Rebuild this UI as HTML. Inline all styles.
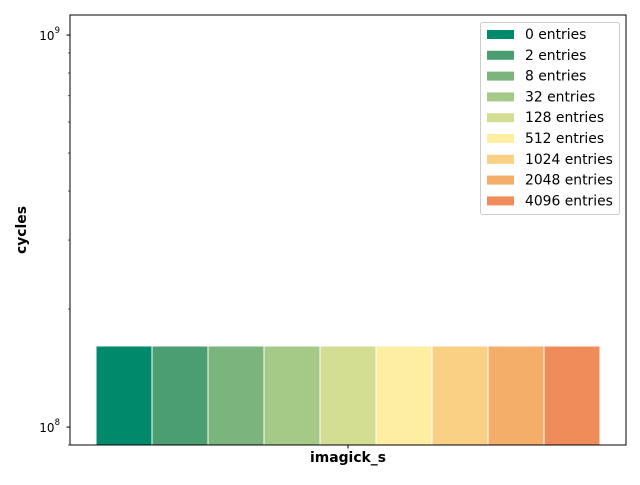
<!DOCTYPE html>
<html><head><meta charset="utf-8"><style>
body{margin:0;background:#fff}
svg text{font-family:"DejaVu Sans","Liberation Sans",sans-serif}
</style></head><body>
<svg width="640" height="480">
<g id="plot"></g>
</svg>
<script>
const categories=["imagick_s"];
const seriesNames=["0 entries","2 entries","8 entries","32 entries","128 entries","512 entries","1024 entries","2048 entries","4096 entries"];
const seriesValues=[1.61e8,1.61e8,1.61e8,1.61e8,1.61e8,1.61e8,1.61e8,1.61e8,1.61e8];
const colors=["#01896c","#4a9e72","#7bb47c","#a5c986","#d3de93","#fdeea2","#f9d084","#f5ae69","#f08c5a"];
const ns="http://www.w3.org/2000/svg";
const g=document.getElementById('plot');
const L=70,R=626,T=15,B=445;
const yMin=Math.log10(0.9e8),yMax=Math.log10(1.125e9);
function y(v){return B-(Math.log10(v)-yMin)/(yMax-yMin)*(B-T);}
const barW=56,x0=96;
function x(i){return x0+i*barW;}
function el(t,a,p){const e=document.createElementNS(ns,t);for(const k in a)e.setAttribute(k,a[k]);(p||g).appendChild(e);return e;}
seriesValues.forEach((v,i)=>{
 const r=el('rect',{x:x(i),y:y(v),width:barW,height:B-y(v),fill:colors[i],stroke:'#fff','stroke-width':1});
 
 
});
const ax=el('rect',{x:L,y:T,width:R-L,height:B-T,fill:'none',stroke:'#000','stroke-width':1});


[1e8,1e9].forEach(v=>{el('line',{x1:L-3.5,x2:L,y1:y(v),y2:y(v),stroke:'#000'});});
[9e7,2e8,3e8,4e8,5e8,6e8,7e8,8e8,9e8].forEach(v=>{el('line',{x1:L-2,x2:L,y1:y(v),y2:y(v),stroke:'#000','stroke-width':0.6});});
const yl=[["10","8",1e8],["10","9",1e9]];
yl.forEach(([b,e,v])=>{
 const t=el('text',{x:L-10,y:y(v)+5,'font-size':12,'text-anchor':'end'});
 
 
 t.innerHTML=b+'<tspan dy="-7" font-size="8.5">'+e+'</tspan>';
});
el('line',{x1:(L+R)/2,x2:(L+R)/2,y1:B,y2:B+3.5,stroke:'#000'});
const xt=el('text',{x:348,y:462,'font-size':13.9,'font-weight':'bold','text-anchor':'middle'});


xt.textContent=categories[0];
const yt=el('text',{x:0,y:0,'font-size':13.9,'font-weight':'bold','text-anchor':'middle',transform:'translate(26,230) rotate(-90)'});


yt.textContent='cycles';
const lg=el('g',{});


el('rect',{x:480.5,y:22.5,width:139,height:192,rx:2,fill:'#fff','fill-opacity':0.8,stroke:'#ccc'},lg);
seriesNames.forEach((n,i)=>{
 const yy=34+i*20.8;
 const p=el('rect',{x:487,y:yy-4,width:27,height:9,fill:colors[i]},lg);
 
 
 const t=el('text',{x:525,y:yy+5,'font-size':13.9},lg);
 
 
 t.textContent=n;
});
</script>
</body></html>
